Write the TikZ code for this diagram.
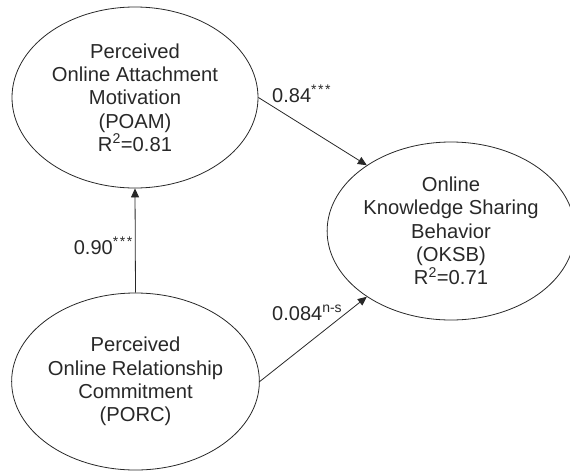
\documentclass[tikz,border=0pt]{standalone}
\usepackage{fontspec}
\setmainfont{Liberation Sans}
\usepackage{tikz}
\usetikzlibrary{shapes.geometric, arrows.meta}
\definecolor{inkgray}{RGB}{40,40,40}
\newcommand{\sigstars}{\textsuperscript{*\kern1.6pt*\kern1.6pt*}}
\tikzset{
  constructnode/.style={ellipse,draw=inkgray,line width=0.8pt,inner sep=0pt,align=center,
    text=inkgray,font=\fontsize{20.2}{23.3}\selectfont},
  pathlabel/.style={text=inkgray,inner sep=0pt,font=\fontsize{20}{23.3}\selectfont},
  patharr/.style={-{Triangle[length=9pt,width=8pt]},line width=0.8pt,color=inkgray}
}

\begin{document}
\begin{tikzpicture}[x=1pt,y=-1pt]
  \useasboundingbox (0,0) rectangle (570,471);
  \node[constructnode,minimum width=246pt,minimum height=181pt] (poam) at (135,97.5)
    {Perceived\\Online Attachment\\Motivation\\(POAM)\\R\textsuperscript{2}=0.81};
  \node[constructnode,minimum width=246pt,minimum height=177pt] (porc) at (135.5,381.5)
    {Perceived\\Online Relationship\\Commitment\\(PORC)};
  \node[constructnode,minimum width=234pt,minimum height=178pt] (oksb) at (451,231)
    {Online\\Knowledge Sharing\\Behavior\\(OKSB)\\R\textsuperscript{2}=0.71};
  \draw[patharr] (poam.east)--(oksb.142);
  \draw[patharr] (porc.east)--(oksb.218);
  \draw[patharr] (porc.north)--(poam.south);
  \node[pathlabel,anchor=base west] (l1) at (272,102) {0.84\sigstars};
  \node[pathlabel,anchor=base east] (l2) at (133,254) {0.90\sigstars};
  \node[pathlabel,anchor=base west] (l3) at (272,320) {0.084\textsuperscript{n-s}};
\end{tikzpicture}
\end{document}
